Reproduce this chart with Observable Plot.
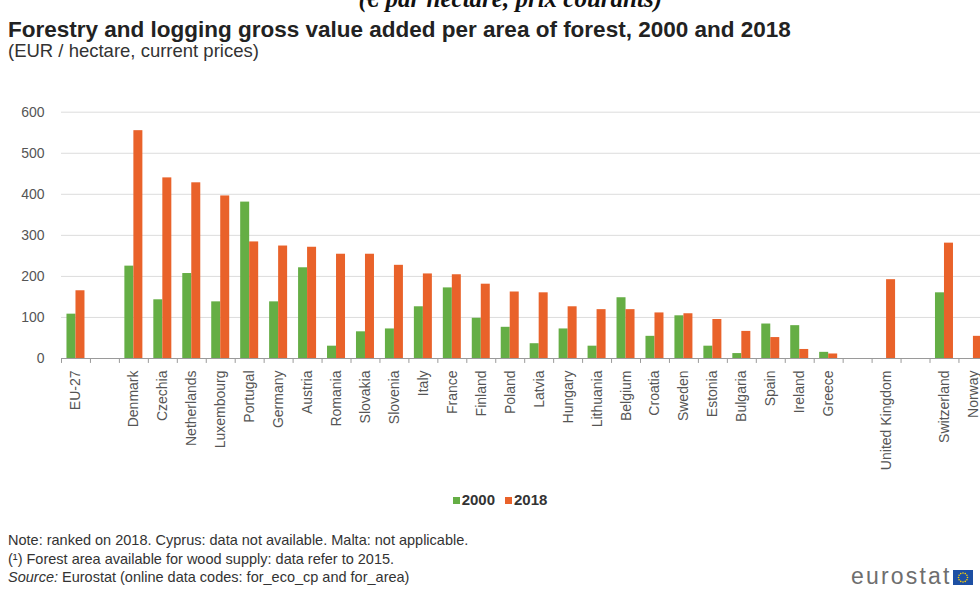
<!DOCTYPE html>
<html><head><meta charset="utf-8">
<script src="https://cdn.jsdelivr.net/npm/d3@7"></script>
<script src="https://cdn.jsdelivr.net/npm/@observablehq/plot@0.6"></script>
<style>
html,body{margin:0;padding:0;background:#fff;overflow:hidden;}
#page{position:relative;width:980px;height:589px;overflow:hidden;font-family:"Liberation Sans",Arial,sans-serif;background:#fff;}
#top{position:absolute;right:318px;top:-14px;line-height:1;font-family:"Liberation Serif","Times New Roman",serif;font-weight:bold;font-style:italic;font-size:25px;color:#111;white-space:nowrap;}
#title{position:absolute;left:8px;top:19px;line-height:1;font-weight:bold;font-size:22.5px;color:#222;white-space:nowrap;}
#subtitle{position:absolute;left:8px;top:42px;line-height:1;font-size:18.5px;color:#333;white-space:nowrap;}
#chart{position:absolute;left:0;top:90px;width:1000px;}
#legend{position:absolute;left:0;width:1000px;top:492px;text-align:center;font-weight:bold;font-size:15px;color:#333;line-height:1;}
#legend span.sw{display:inline-block;width:7px;height:7px;margin-right:2px;vertical-align:1px;}
#legend span.item{margin:0 5px;}
#notes{position:absolute;left:8px;top:531px;font-size:14.5px;color:#333;line-height:18.5px;white-space:nowrap;}
#logo{position:absolute;left:851px;top:565px;height:22px;white-space:nowrap;}
#logo .t{font-size:23px;letter-spacing:2.2px;color:#6e6e6e;line-height:1;vertical-align:top;}
</style></head><body>
<div id="page">
  <div id="top">(€ par hectare, prix courants)</div>
  <div id="title">Forestry and logging gross value added per area of forest, 2000 and 2018</div>
  <div id="subtitle">(EUR / hectare, current prices)</div>
  <div id="chart"></div>
  <div id="legend"></div>
  <div id="notes"></div>
  <div id="logo"><span class="t">eurostat</span><svg width="20" height="15" style="vertical-align:top;margin-top:5px;margin-left:1px"><rect width="20" height="15" fill="#1d4fa3"></rect><g fill="#ffd200" id="stars"></g></svg></div>
</div>
<script>
// ---- data ----
const countries = ["EU-27","_gap1","Denmark","Czechia","Netherlands","Luxembourg","Portugal","Germany","Austria","Romania","Slovakia","Slovenia","Italy","France","Finland","Poland","Latvia","Hungary","Lithuania","Belgium","Croatia","Sweden","Estonia","Bulgaria","Spain","Ireland","Greece","_gap2","United Kingdom","_gap3","Switzerland","Norway"];
const values2000 = [108,null,225,143,207,138,381,138,221,30,65,72,126,172,98,76,36,72,30,148,54,104,30,12,84,80,15,null,null,null,160,null];
const values2018 = [165,null,555,440,428,396,284,274,271,254,254,227,206,204,181,162,160,126,119,119,111,109,95,66,51,22,11,null,192,null,281,54];
const years = ["2000","2018"];
const yTicks = [0,100,200,300,400,500,600];
const colors = ["#65ae45","#e9622a"];
const noteLines = [
  "Note: ranked on 2018. Cyprus: data not available. Malta: not applicable.",
  "(¹) Forest area available for wood supply: data refer to 2015.",
  "<i>Source:</i> Eurostat (online data codes: for_eco_cp and for_area)"
];

// ---- layout ----
const W = 1000, ML = 61, MR = W - 987.4, MT = 21.7, MB = 120, H = 268 + MB;
const bw = (W - ML - MR) / countries.length;
const barW = 9;

const rows = [];
countries.forEach((c, i) => {
  if (values2000[i] != null) rows.push({country: c, year: years[0], value: values2000[i]});
  if (values2018[i] != null) rows.push({country: c, year: years[1], value: values2018[i]});
});

const chart = Plot.plot({
  width: W, height: H,
  marginLeft: ML, marginRight: MR, marginTop: MT, marginBottom: MB,
  style: {fontFamily: '"Liberation Sans", Arial, sans-serif', fontSize: "14px", color: "#555", background: "transparent"},
  x: {domain: countries, padding: 0, label: null},
  y: {domain: [0, 600], label: null},
  color: {domain: years, range: colors},
  marks: [
    Plot.gridY(yTicks, {stroke: "#dcdcdc", strokeOpacity: 1}),
    Plot.barY(rows.filter(d => d.year === years[0]), {x: "country", y: "value", fill: "year", insetLeft: bw/2 - barW, insetRight: bw/2}),
    Plot.barY(rows.filter(d => d.year === years[1]), {x: "country", y: "value", fill: "year", insetLeft: bw/2, insetRight: bw/2 - barW}),
    Plot.ruleY([0], {stroke: "#9a9a9a"}),
    Plot.ruleX(countries, {x: d => d, dx: -bw/2, y1: 0, y2: -12, stroke: "#9a9a9a"}),
    Plot.axisY(yTicks, {tickSize: 0, tickPadding: 17, fill: "#555", fontSize: 14}),
    Plot.axisX({tickSize: 0, tickRotate: -90, tickPadding: 12, fill: "#555", fontSize: 14,
      tickFormat: d => d.startsWith("_") ? "" : d})
  ]
});
document.getElementById("chart").appendChild(chart);

// legend
const lg = document.getElementById("legend");
years.forEach((y, i) => {
  const s = document.createElement("span");
  s.className = "item";
  s.innerHTML = `<span class="sw" style="background:${colors[i]}"></span>${y}`;
  lg.appendChild(s);
});
// notes
document.getElementById("notes").innerHTML = noteLines.join("<br>");
// logo stars
const g = document.getElementById("stars");
for (let k = 0; k < 12; k++) {
  const a = k * Math.PI / 6;
  const c = document.createElementNS("http://www.w3.org/2000/svg", "circle");
  c.setAttribute("cx", 10 + 4.5 * Math.cos(a));
  c.setAttribute("cy", 7.5 + 4.5 * Math.sin(a));
  c.setAttribute("r", 0.8);
  g.appendChild(c);
}
</script>
</body></html>
